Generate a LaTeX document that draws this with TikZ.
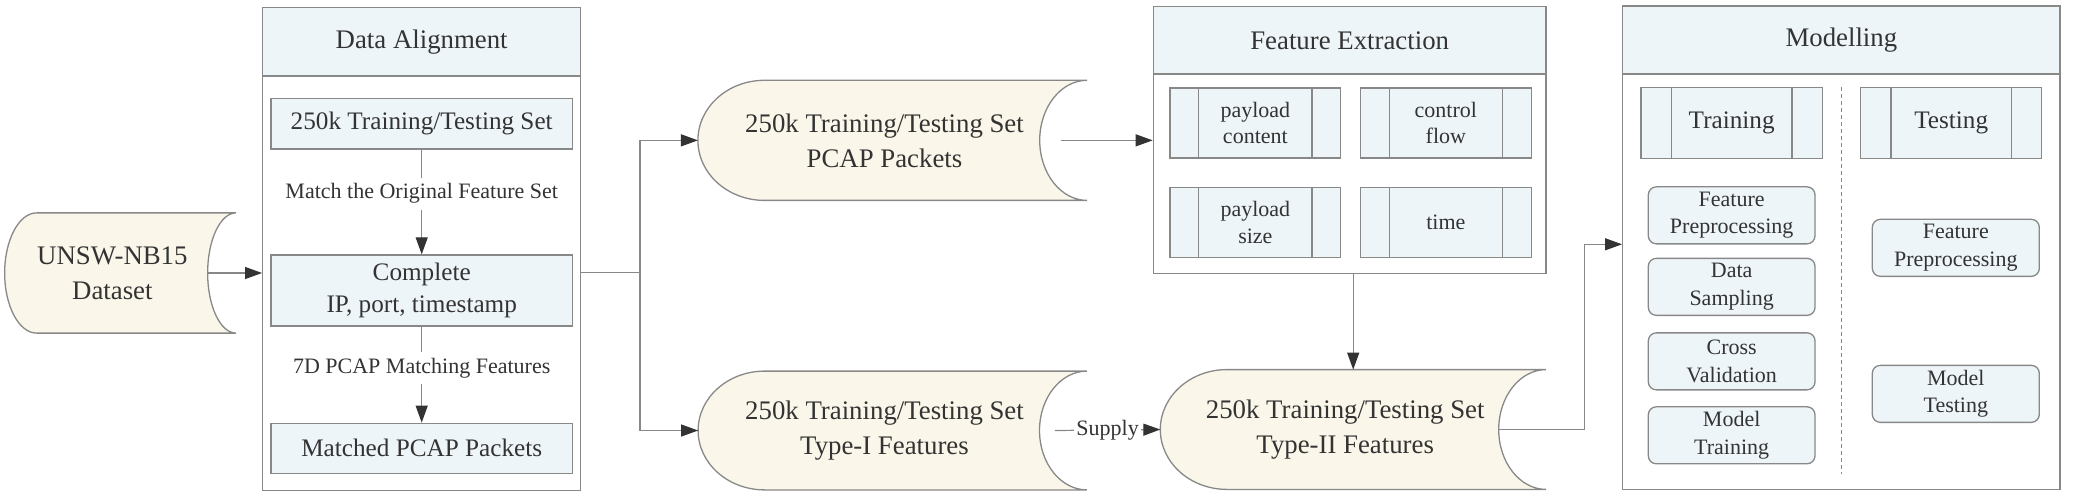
\documentclass[tikz,border=0pt]{standalone}
\usepackage{fontspec}
\setmainfont{Liberation Serif}
\usepackage{xcolor}
\usepackage{tikz}
\usetikzlibrary{arrows.meta,positioning,calc,backgrounds}
\definecolor{headblue}{HTML}{EEF5F9}
\definecolor{storecream}{HTML}{FAF7EA}
\definecolor{edgegray}{HTML}{888888}
\definecolor{inkgray}{HTML}{333333}

\newcommand{\datastore}[3]{%
  \path[storeshape]
    let \p1=(#1.north east), \p2=(#1.south west), \n1={(\y1-\y2)/2} in
    (\p1) -- (\x2+#2,\y1) arc[start angle=90, end angle=270, x radius=#2, y radius=\n1]
    -- (\x1,\y2) arc[start angle=270, end angle=90, x radius=#3, y radius=\n1] -- cycle;}
\newcommand{\lpad}{\hspace*{8pt}}

\begin{document}
\begin{tikzpicture}[
    x=0.5pt, y=-0.5pt,
    group/.style={rectangle, draw=edgegray, fill=white, line width=0.65pt},
    grouphead/.style={rectangle, draw=edgegray, fill=headblue, line width=0.65pt, text=inkgray, font=\fontsize{13.4}{17}\selectfont},
    itembox/.style={rectangle, draw=edgegray, fill=headblue, line width=0.65pt, text=inkgray, align=center, inner sep=1pt, font=\fontsize{12.6}{15.8}\selectfont},
    procbox/.style={itembox, path picture={
        \draw[edgegray, line width=0.65pt]
            ([xshift=#1]path picture bounding box.north west) -- ([xshift=#1]path picture bounding box.south west)
            ([xshift=-#1]path picture bounding box.north east) -- ([xshift=-#1]path picture bounding box.south east);}},
    procbox/.default=14.4pt,
    featbox/.style={procbox=14.4pt, minimum width=85.35pt, minimum height=35pt, font=\fontsize{11}{13.3}\selectfont},
    phasebox/.style={procbox=15.15pt, minimum width=90.6pt, minimum height=35.3pt},
    roundbox/.style={itembox, rounded corners=4pt, minimum height=28.5pt, font=\fontsize{11}{13.8}\selectfont},
    storenode/.style={rectangle, inner sep=0pt, align=center, text=inkgray, font=\fontsize{13.4}{17.5}\selectfont},
    storeshape/.style={draw=edgegray, fill=storecream, line width=0.65pt},
    edgelabel/.style={fill=white, text=inkgray, inner sep=3pt, font=\fontsize{11}{13}\selectfont},
    arrow/.style={-{Triangle[length=8.5pt, width=6pt, color=inkgray]}, draw=edgegray, line width=0.6pt},
    wire/.style={draw=edgegray, line width=0.6pt},
    divider/.style={draw=edgegray, line width=0.6pt, dash pattern=on 2pt off 1.5pt}
]
    \useasboundingbox (0,0) rectangle (2075,502);

    \node[storenode, minimum width=115.3pt, minimum height=59.7pt] (unsw) at (120.35,273) {UNSW-NB15\lpad\\Dataset\lpad};

    \node[group, minimum width=159pt, minimum height=241.7pt] (align) at (421.7,249) {};
    \node[grouphead, minimum width=159pt, minimum height=34.3pt, anchor=north] (alignhead) at (align.north) {Data Alignment};
    \node[itembox, minimum width=150.7pt, minimum height=25.3pt] (trainset) at (421.7,123.7) {250k Training/Testing Set};
    \node[itembox, minimum width=150.7pt, minimum height=35.5pt] (complete) at (421.7,290.5) {Complete\\IP, port, timestamp};
    \node[itembox, minimum width=150.7pt, minimum height=25pt] (matched) at (421.7,448.3) {Matched PCAP Packets};

    \node[storenode, minimum width=194.2pt, minimum height=59.65pt] (pcap) at (892.5,140.35) {250k Training/Testing Set\lpad\\PCAP Packets\lpad};
    \node[storenode, minimum width=194pt, minimum height=59pt] (typeone) at (892.5,430.5) {250k Training/Testing Set\lpad\\Type-I Features\lpad};
    \node[storenode, minimum width=192.5pt, minimum height=59.5pt] (typetwo) at (1353.2,429.5) {250k Training/Testing Set\lpad\\Type-II Features\lpad};

    \node[group, minimum width=196.35pt, minimum height=133.3pt] (fe) at (1349.65,140) {};
    \node[grouphead, minimum width=196.35pt, minimum height=33.65pt, anchor=north] (fehead) at (fe.north) {Feature Extraction};
    \node[featbox] (content) at (1255.35,123) {payload\\content};
    \node[featbox] (flow) at (1445.85,123) {control\\flow};
    \node[featbox] (size) at (1255.35,222.5) {payload\\size};
    \node[featbox] (time) at (1445.85,222.5) {time};

    \node[group, minimum width=218.65pt, minimum height=241.65pt] (model) at (1841.35,247.65) {};
    \node[grouphead, minimum width=218.65pt, minimum height=34pt, anchor=north] (modelhead) at (model.north) {Modelling};
    \node[phasebox] (training) at (1731.65,123) {Training};
    \node[phasebox] (testing) at (1951.2,123) {Testing};
    \node[roundbox, minimum width=83.35pt] (fpre) at (1731.65,215.35) {Feature\\Preprocessing};
    \node[roundbox, minimum width=83.35pt] (sampling) at (1731.65,286.85) {Data\\Sampling};
    \node[roundbox, minimum width=83.35pt] (cv) at (1731.65,361.35) {Cross\\Validation};
    \node[roundbox, minimum width=83.35pt] (mtrain) at (1731.65,435.3) {Model\\Training};
    \node[roundbox, minimum width=83.5pt] (fpretest) at (1955.8,247.85) {Feature\\Preprocessing};
    \node[roundbox, minimum width=83.5pt] (mtest) at (1955.8,393.85) {Model\\Testing};
    \draw[divider] (training.north -| model.center) -- ([yshift=8pt]model.south);

    \begin{scope}[on background layer]
        \datastore{unsw}{16pt}{14.2pt}
        \datastore{pcap}{33.3pt}{23.7pt}
        \datastore{typeone}{33.3pt}{23.7pt}
        \datastore{typetwo}{33.3pt}{23.7pt}
    \end{scope}

    \coordinate (split) at (640,272.7);
    \coordinate (turn) at (1584.3,244.3);

    \draw[arrow] ([xshift=-14.2pt]unsw.east) -- (unsw.east -| align.west);
    \draw[arrow] (trainset) -- node[edgelabel, pos=0.42] {Match the Original Feature Set} (complete);
    \draw[arrow] (complete) -- node[edgelabel, pos=0.43] {7D PCAP Matching Features} (matched);
    \draw[wire] (align.east |- split) -- (split);
    \draw[arrow] (split) |- (pcap.west);
    \draw[arrow] (split) |- (typeone.west);
    \draw[arrow] ([xshift=-13.3pt]pcap.east) -- (pcap.east -| fe.west);
    \draw[arrow] ([xshift=-16pt]typeone.east) -- node[edgelabel, inner sep=1pt] {Supply} (typetwo.west);
    \draw[arrow] (fe.south -| typetwo.north) -- (typetwo.north);
    \draw[arrow] ([xshift=-24pt]typetwo.east) -| (turn) -- (turn -| model.west);
\end{tikzpicture}
\end{document}
